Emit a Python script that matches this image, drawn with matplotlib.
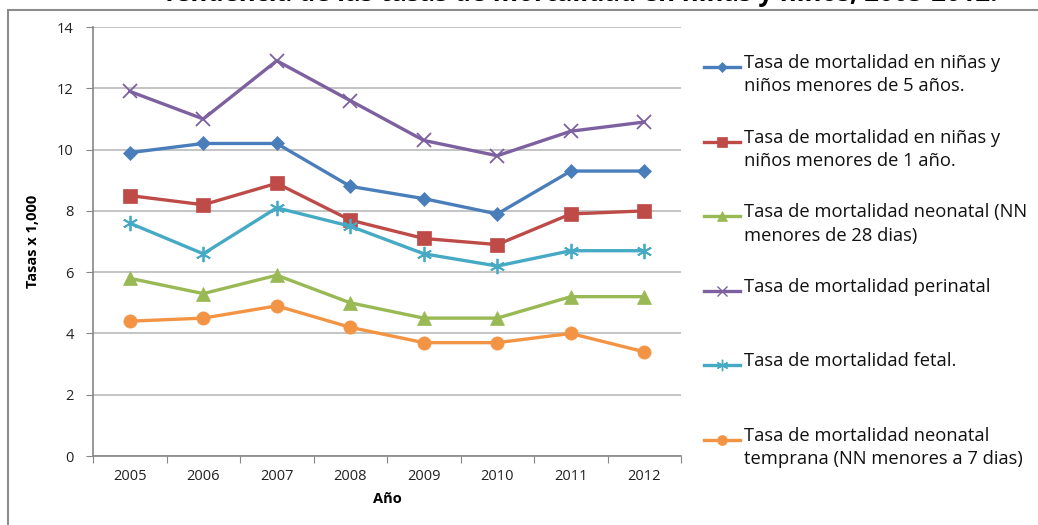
import matplotlib
matplotlib.use("Agg")
from matplotlib import pyplot as plt
from matplotlib.lines import Line2D
from matplotlib.patches import Rectangle
import numpy as np

plt.rcParams['font.family'] = ['Open Sans', 'DejaVu Sans']

# Tasas por cada 1,000 nacidos vivos
years = ['2005', '2006', '2007', '2008', '2009', '2010', '2011', '2012']

menores_5 = [9.9, 10.2, 10.2, 8.8, 8.4, 7.9, 9.3, 9.3]
menores_1 = [8.5, 8.2, 8.9, 7.7, 7.1, 6.9, 7.9, 8.0]
neonatal = [5.8, 5.3, 5.9, 5.0, 4.5, 4.5, 5.2, 5.2]
perinatal = [11.9, 11.0, 12.9, 11.6, 10.3, 9.8, 10.6, 10.9]
fetal = [7.6, 6.6, 8.1, 7.5, 6.6, 6.2, 6.7, 6.7]
neonatal_temprana = [4.4, 4.5, 4.9, 4.2, 3.7, 3.7, 4.0, 3.4]

labels = [
    'Tasa de mortalidad en niñas y\nniños menores de 5 años.',
    'Tasa de mortalidad en niñas y\nniños menores de 1 año.',
    'Tasa de mortalidad neonatal (NN\nmenores de 28 dias)',
    'Tasa de mortalidad perinatal',
    'Tasa de mortalidad fetal.',
    'Tasa de mortalidad neonatal\ntemprana (NN menores a 7 dias)',
]

series = [menores_5, menores_1, neonatal, perinatal, fetal, neonatal_temprana]
colors = ['#4A7EBB', '#BE4B48', '#98B954', '#7D60A0', '#46AAC5', '#F39445']
markers = ['D', 's', '^', 'x', (6, 2, 0), 'o']
msizes = [7, 9.5, 9.5, 10, 11, 9.5]

fig = plt.figure(figsize=(10.38, 5.25), dpi=100)
ax = fig.add_axes([0.0896, 0.1314, 0.5665, 0.8171])

x = np.arange(len(years))
for vals, c, m, ms in zip(series, colors, markers, msizes):
    ax.plot(x, vals, color=c, lw=2.4, marker=m, markersize=ms,
            markeredgewidth=1.3 if m in ('x', (6, 2, 0)) else 0.5,
            markeredgecolor=c, markerfacecolor=c, zorder=3)

ax.set_ylim(0, 14)
ax.set_yticks(np.arange(0, 15, 2))
ax.set_xlim(-0.5, len(years) - 0.5)
# tick marks between categories, labels centered on each year
ax.set_xticks(np.arange(-0.5, len(years), 1.0))
ax.set_xticklabels([])
ax.set_xticks(x, minor=True)
ax.set_xticklabels(years, minor=True)
ax.tick_params(axis='x', which='minor', length=0, pad=9, labelsize=10.5, colors='#222222')
ax.tick_params(axis='x', which='major', length=5, color='#868686')
ax.tick_params(axis='y', length=5, color='#868686', labelsize=10.5, labelcolor='#222222', pad=9)

ax.grid(axis='y', color='#BFBFBF', lw=1.3)
ax.set_axisbelow(True)
for side in ('top', 'right'):
    ax.spines[side].set_visible(False)
for side in ('left', 'bottom'):
    ax.spines[side].set_color('#868686')
    ax.spines[side].set_linewidth(1.2)

ax.set_ylabel('Tasas x 1,000', fontsize=10.5, fontweight='bold', labelpad=12)
ax.set_xlabel('Año', fontsize=10.5, fontweight='bold', labelpad=6)

# legend on the right, evenly spaced slots
y0 = 1 - 67 / 525
step = 74.6 / 525
for i, (lab, c, m, ms) in enumerate(zip(labels, colors, markers, msizes)):
    yy = y0 - i * step
    fig.add_artist(Line2D([704 / 1038, 740 / 1038], [yy, yy], color=c, lw=2.4,
                          transform=fig.transFigure))
    fig.add_artist(Line2D([722 / 1038], [yy], color=c, marker=m, markersize=ms * 0.75,
                          markeredgewidth=1.0 if m in ('x', (6, 2, 0)) else 0.5,
                          markerfacecolor=c, markeredgecolor=c,
                          transform=fig.transFigure))
    fig.text(744 / 1038, yy + 13 / 525, lab, fontsize=13.2, va='top', ha='left',
             color='#111111', linespacing=1.38)

# outer chart frame
fig.add_artist(Rectangle((8 / 1038, -0.1), 1.1, 1.1 - 10 / 525, fill=False,
                         edgecolor='#8C8C8C', lw=1.5, transform=fig.transFigure))

fig.text(580 / 1038, 1 - 1 / 525,
         'Tendencia de las tasas de mortalidad en niñas y niños, 2005-2012.',
         ha='center', va='baseline', fontsize=18.5, fontweight='bold')

fig.savefig('out.png', dpi=100)
